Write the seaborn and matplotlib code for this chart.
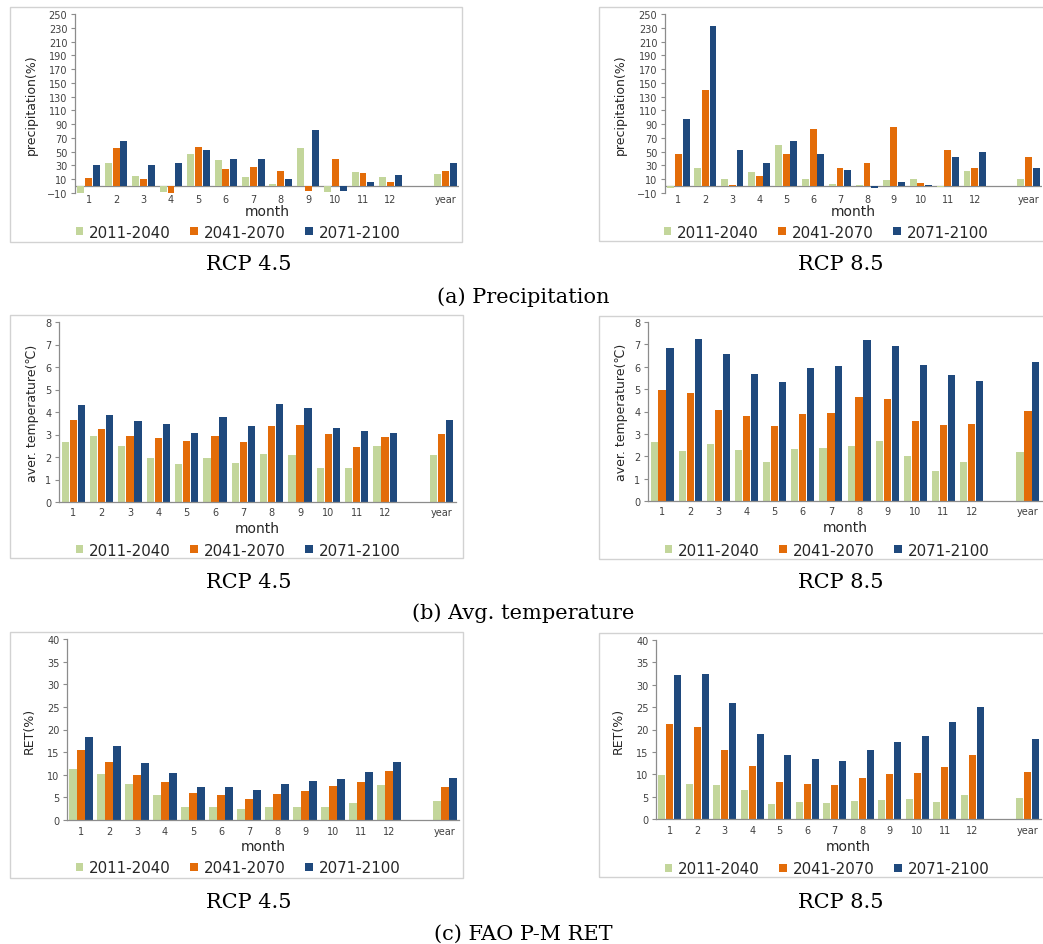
import numpy as np
import pandas as pd
import matplotlib
matplotlib.use("Agg")
import matplotlib.pyplot as plt
from matplotlib.patches import Rectangle, Patch
import seaborn as sns

# ---------------- data ----------------
categories = ['1', '2', '3', '4', '5', '6', '7', '8', '9', '10', '11', '12', 'year']
spacer = ' '
periods = ['2011-2040', '2041-2070', '2071-2100']
colors = ['#C3D69B', '#E36C09', '#1F497D']

precip45_p1 = [-10, 34, 15, -9, 47, 38, 13, 3, 55, -9, 21, 13, 17]
precip45_p2 = [12, 56, 10, -11, 57, 25, 28, 22, -7, 40, 19, 6, 22]
precip45_p3 = [31, 65, 30, 33, 52, 39, 40, 11, 82, -7, 6, 16, 34]

precip85_p1 = [-3, 27, 10, 20, 59, 10, 3, 2, 9, 10, -2, 22, 11]
precip85_p2 = [47, 140, 1, 14, 47, 83, 26, 33, 86, 4, 53, 26, 42]
precip85_p3 = [97, 232, 52, 34, 66, 47, 23, -3, 6, 1.5, 42, 49, 27]

temp45_p1 = [2.65, 2.95, 2.48, 1.95, 1.68, 1.95, 1.72, 2.12, 2.10, 1.50, 1.50, 2.47, 2.10]
temp45_p2 = [3.65, 3.25, 2.95, 2.85, 2.70, 2.92, 2.68, 3.38, 3.42, 3.02, 2.46, 2.90, 3.02]
temp45_p3 = [4.32, 3.88, 3.60, 3.45, 3.08, 3.78, 3.40, 4.35, 4.20, 3.30, 3.15, 3.06, 3.63]

temp85_p1 = [2.62, 2.25, 2.55, 2.28, 1.75, 2.33, 2.35, 2.46, 2.68, 2.02, 1.33, 1.75, 2.20]
temp85_p2 = [4.95, 4.82, 4.07, 3.82, 3.33, 3.87, 3.92, 4.66, 4.58, 3.58, 3.40, 3.43, 4.03]
temp85_p3 = [6.82, 7.22, 6.57, 5.68, 5.32, 5.95, 6.02, 7.20, 6.93, 6.08, 5.62, 5.35, 6.22]

ret45_p1 = [11.2, 10.2, 7.9, 5.5, 2.9, 2.9, 2.4, 2.9, 2.8, 2.9, 3.7, 7.7, 4.2]
ret45_p2 = [15.5, 12.8, 9.9, 8.5, 6.0, 5.6, 4.7, 5.7, 6.5, 7.5, 8.4, 10.8, 7.3]
ret45_p3 = [18.3, 16.3, 12.7, 10.3, 7.4, 7.3, 6.6, 7.9, 8.7, 9.1, 10.5, 12.9, 9.3]

ret85_p1 = [9.8, 7.9, 7.5, 6.4, 3.4, 3.7, 3.5, 4.1, 4.3, 4.4, 3.9, 5.3, 4.7]
ret85_p2 = [21.3, 20.5, 15.5, 11.9, 8.2, 7.8, 7.5, 9.2, 10.0, 10.2, 11.7, 14.4, 10.6]
ret85_p3 = [32.1, 32.3, 26.0, 19.0, 14.2, 13.4, 12.9, 15.5, 17.3, 18.6, 21.6, 25.0, 17.9]

precip_ticks = list(range(-10, 251, 20))
temp_ticks = list(range(0, 9))
ret_ticks = list(range(0, 41, 5))

precip_label = 'precipitation(%)'
temp_label = 'aver. temperature(\u2103)'
ret_label = 'RET(%)'
scenario_labels = ['RCP 4.5', 'RCP 8.5']
captions = ['(a) Precipitation', '(b) Avg. temperature', '(c) FAO P-M RET']

# ---------------- style ----------------
sns.set_theme(style='white')
plt.rcParams['font.family'] = ['DejaVu Sans', 'Noto Sans CJK KR']

W, H = 1043, 945
fig = plt.figure(figsize=(W / 100, H / 100), dpi=100)
fig.patch.set_facecolor('white')

AXIS_COLOR = '#8C8C8C'
TEXT_COLOR = '#404040'
BOX_COLOR = '#D2D2D2'


def fig_rect(l, t, r, b):
    return [l / W, 1 - b / H, (r - l) / W, (b - t) / H]


def draw_box(l, t, r, b):
    x0, y0, w, h = fig_rect(l, t, r, b)
    fig.add_artist(Rectangle((x0, y0), w, h, transform=fig.transFigure,
                             fill=False, ec=BOX_COLOR, lw=1.0, zorder=0))


def fmt_tick(v):
    return str(v).replace('-', '\u2212')


def draw_panel(axpx, boxpx, series, yticks, ylabel, ylabel_right, xlabel_y,
               legend_c, tick_pad, zero_line):
    l, t, r, b = axpx
    draw_box(*boxpx)
    ax = fig.add_axes(fig_rect(l, t, r, b))
    ax.set_facecolor('none')
    p1, p2, p3 = series
    df = pd.DataFrame({
        'cat': categories * 3,
        'period': np.repeat(periods, len(categories)),
        'value': list(p1) + list(p2) + list(p3),
    })
    order = categories[:12] + [spacer] + categories[12:]
    sns.barplot(data=df, x='cat', y='value', hue='period', order=order,
                hue_order=periods, palette=colors, width=0.85, gap=0.1,
                linewidth=0, errorbar=None, legend=False, ax=ax,
                saturation=1)
    ax.set_xlim(-0.5, len(order) - 0.5)
    ax.set_ylim(yticks[0], yticks[-1])
    ax.set_yticks(yticks)
    ax.set_yticklabels([fmt_tick(v) for v in yticks])
    for s in ['top', 'right']:
        ax.spines[s].set_visible(False)
    ax.spines['left'].set_color(AXIS_COLOR)
    ax.spines['left'].set_linewidth(0.9)
    if zero_line:
        ax.spines['bottom'].set_visible(False)
        ax.axhline(0, color=AXIS_COLOR, lw=0.9, zorder=0.5)
    else:
        ax.spines['bottom'].set_color(AXIS_COLOR)
        ax.spines['bottom'].set_linewidth(0.9)
    ax.tick_params(axis='y', length=3, width=0.8, color=AXIS_COLOR,
                   labelsize=7, labelcolor=TEXT_COLOR, pad=2.5, left=True)
    ax.tick_params(axis='x', length=0, labelsize=7, labelcolor=TEXT_COLOR,
                   pad=tick_pad, bottom=True)
    ax.set_xlabel('')
    ax.set_ylabel(ylabel, fontsize=9, color='#262626',
                  family=['DejaVu Sans', 'Noto Sans CJK KR'])
    ax.yaxis.set_label_coords((ylabel_right - l) / (r - l), 0.5)
    # month label
    fig.text(((l + r) / 2) / W, 1 - xlabel_y / H, 'month', fontsize=10,
             color='#262626', ha='center', va='center')
    handles = [Patch(facecolor=c, edgecolor='none', label=p)
               for c, p in zip(colors, periods)]
    fig.legend(handles=handles, loc='center', ncol=3, frameon=False,
               bbox_to_anchor=(legend_c[0] / W, 1 - legend_c[1] / H),
               fontsize=10.8, handlelength=0.5, handleheight=0.5,
               handletextpad=0.4, columnspacing=1.3, labelcolor='#262626',
               borderpad=0, borderaxespad=0)
    return ax


# ---------- row 1: precipitation ----------
draw_panel((75, 15, 459, 194), (10, 8, 462, 243),
           (precip45_p1, precip45_p2, precip45_p3), precip_ticks, precip_label,
           38, 212, (238, 233), 1.0, True)
draw_panel((665, 15, 1042, 194), (599, 8, 1070, 242),
           (precip85_p1, precip85_p2, precip85_p3), precip_ticks, precip_label,
           627, 212, (826, 233), 1.0, True)

# ---------- row 2: temperature ----------
draw_panel((59, 323, 456, 503), (10, 316, 463, 559),
           (temp45_p1, temp45_p2, temp45_p3), temp_ticks, temp_label,
           39, 529, (238, 551), 3.5, False)
draw_panel((648, 323, 1042, 502), (599, 317, 1070, 560),
           (temp85_p1, temp85_p2, temp85_p3), temp_ticks, temp_label,
           628, 528, (827, 551), 3.5, False)

# ---------- row 3: RET ----------
draw_panel((67, 640, 459, 821), (10, 633, 463, 879),
           (ret45_p1, ret45_p2, ret45_p3), ret_ticks, ret_label,
           36, 847, (238, 869), 4.5, False)
draw_panel((656, 641, 1041, 820), (599, 634, 1070, 878),
           (ret85_p1, ret85_p2, ret85_p3), ret_ticks, ret_label,
           625, 847, (827, 870), 4.5, False)

# ---------- captions ----------
cap_font = dict(family='DejaVu Serif', fontsize=15, color='black',
                ha='center', va='center')
for y_rcp, y_cap, cap in [(265, 297, captions[0]), (583, 613, captions[1]),
                          (903, 934, captions[2])]:
    fig.text(249 / W, 1 - y_rcp / H, scenario_labels[0], **cap_font)
    fig.text(841 / W, 1 - y_rcp / H, scenario_labels[1], **cap_font)
    fig.text(523 / W, 1 - y_cap / H, cap, **cap_font)

fig.savefig('out.png', dpi=100, facecolor='white')
